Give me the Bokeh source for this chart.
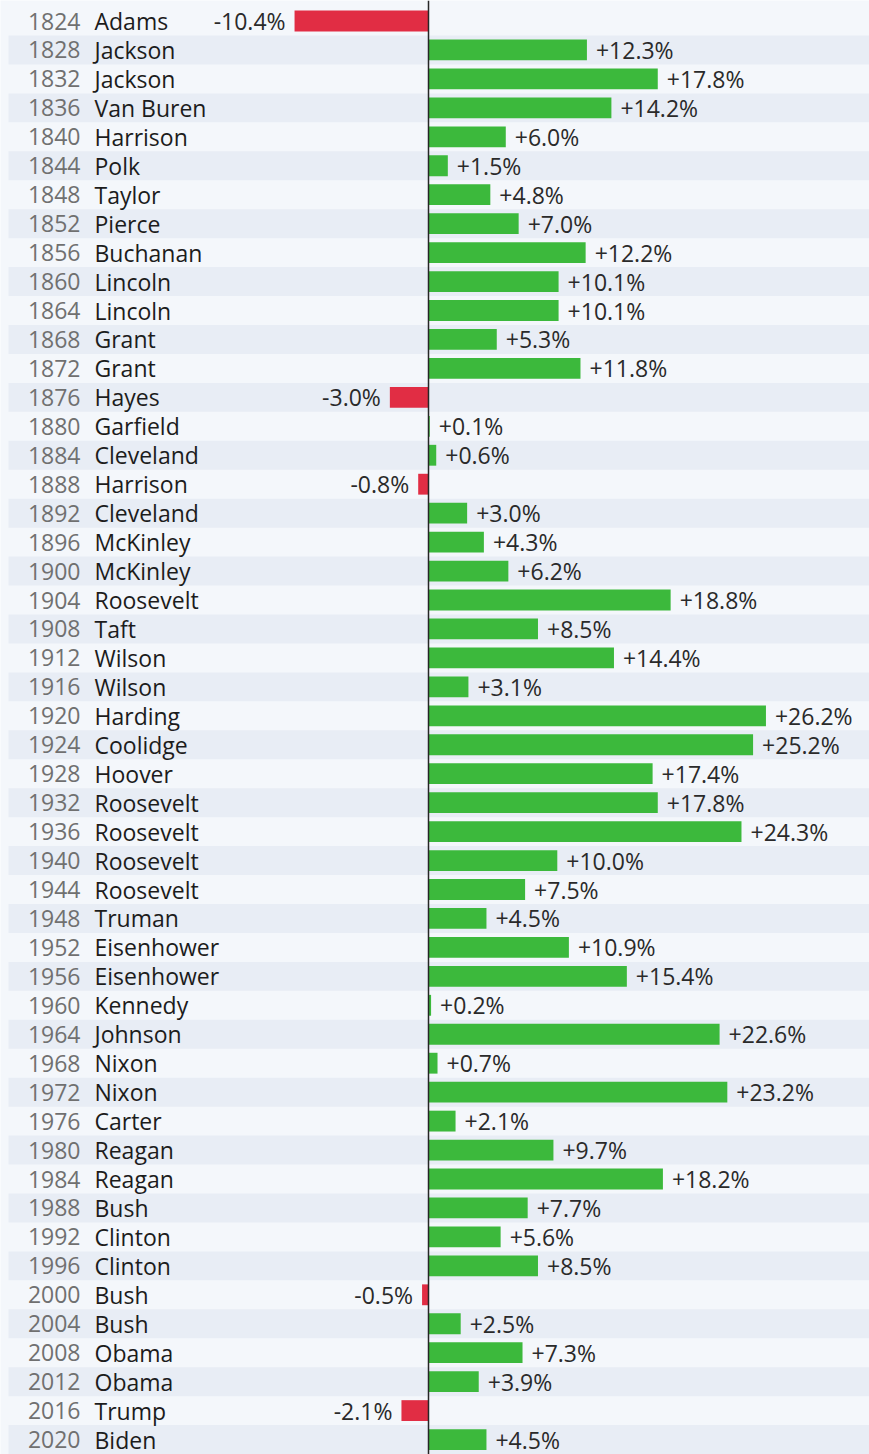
from bokeh.plotting import figure
from bokeh.models import ColumnDataSource, Range1d, Span
from bokeh.core.properties import value
from bokeh.embed import file_html
from bokeh.resources import INLINE

years = [1824, 1828, 1832, 1836, 1840, 1844, 1848, 1852, 1856, 1860,
         1864, 1868, 1872, 1876, 1880, 1884, 1888, 1892, 1896, 1900,
         1904, 1908, 1912, 1916, 1920, 1924, 1928, 1932, 1936, 1940,
         1944, 1948, 1952, 1956, 1960, 1964, 1968, 1972, 1976, 1980,
         1984, 1988, 1992, 1996, 2000, 2004, 2008, 2012, 2016, 2020]
names = ["Adams", "Jackson", "Jackson", "Van Buren", "Harrison", "Polk", "Taylor",
         "Pierce", "Buchanan", "Lincoln", "Lincoln", "Grant", "Grant", "Hayes",
         "Garfield", "Cleveland", "Harrison", "Cleveland", "McKinley", "McKinley",
         "Roosevelt", "Taft", "Wilson", "Wilson", "Harding", "Coolidge", "Hoover",
         "Roosevelt", "Roosevelt", "Roosevelt", "Roosevelt", "Truman", "Eisenhower",
         "Eisenhower", "Kennedy", "Johnson", "Nixon", "Nixon", "Carter", "Reagan",
         "Reagan", "Bush", "Clinton", "Clinton", "Bush", "Bush", "Obama", "Obama",
         "Trump", "Biden"]
values = [-10.4, 12.3, 17.8, 14.2, 6.0, 1.5, 4.8, 7.0, 12.2, 10.1,
          10.1, 5.3, 11.8, -3.0, 0.1, 0.6, -0.8, 3.0, 4.3, 6.2,
          18.8, 8.5, 14.4, 3.1, 26.2, 25.2, 17.4, 17.8, 24.3, 10.0,
          7.5, 4.5, 10.9, 15.4, 0.2, 22.6, 0.7, 23.2, 2.1, 9.7,
          18.2, 7.7, 5.6, 8.5, -0.5, 2.5, 7.3, 3.9, -2.1, 4.5]

GREEN = "#3cb93c"
RED = "#e12d44"
BG = "#f4f7fb"
BAND = "#e8edf5"
FONT = value("Open Sans")
FS = "23px"

W, H = 869, 1454
zero_px = 428.0
px_per_unit = 12.88
row_px = 28.95
first_center_px = 20.5
band_left_px = 8.0

x_start = -zero_px / px_per_unit
x_end = (W - zero_px) / px_per_unit
band_left = (band_left_px - zero_px) / px_per_unit
y_top = -first_center_px / row_px
y_bottom = (H - first_center_px) / row_px

n = len(years)
rows = list(range(n))
src = ColumnDataSource(dict(
    row=rows,
    year=[str(y) for y in years],
    name=names,
    val=values,
    color=[GREEN if v >= 0 else RED for v in values],
))
pos = ColumnDataSource(dict(
    row=[r for r, v in zip(rows, values) if v >= 0],
    val=[v for v in values if v >= 0],
    label=["+%.1f%%" % v for v in values if v >= 0],
))
neg = ColumnDataSource(dict(
    row=[r for r, v in zip(rows, values) if v < 0],
    val=[v for v in values if v < 0],
    label=["%.1f%%" % v for v in values if v < 0],
))
bands = ColumnDataSource(dict(row=[r for r in rows if r % 2 == 1]))

p = figure(width=W, height=H, output_backend="svg", toolbar_location=None,
           x_range=Range1d(x_start, x_end), y_range=Range1d(y_bottom, y_top),
           min_border=0, min_border_left=0, min_border_right=0,
           min_border_top=0, min_border_bottom=0)
p.axis.visible = False
p.grid.visible = False
p.outline_line_color = None
p.background_fill_color = BG
p.border_fill_color = BG

p.hbar(y="row", left=band_left, right=x_end, height=1.0, source=bands,
       fill_color=BAND, line_color=None)

p.hbar(y="row", left=0, right="val", height=0.72, source=src,
       fill_color="color", line_color=None)

p.add_layout(Span(location=0, dimension="height", line_color="#262626", line_width=1.5))

p.text(x=0, y="row", text="year", source=src, x_offset=80 - zero_px,
       text_align="right", text_baseline="middle", text_font=FONT,
       text_font_size=FS, text_color="#707070")
p.text(x=0, y="row", text="name", source=src, x_offset=94 - zero_px,
       text_align="left", text_baseline="middle", text_font=FONT,
       text_font_size=FS, text_color="#1c1c1c")
p.text(x="val", y="row", text="label", source=pos, x_offset=9,
       text_align="left", text_baseline="middle", text_font=FONT,
       text_font_size=FS, text_color="#2a2a2a")
p.text(x="val", y="row", text="label", source=neg, x_offset=-9,
       text_align="right", text_baseline="middle", text_font=FONT,
       text_font_size=FS, text_color="#2a2a2a")

html = file_html(p, INLINE)
html = html.replace("<body>", '<body style="background-color:%s;margin:0">' % BG, 1)
open("out.html", "w").write(html)
